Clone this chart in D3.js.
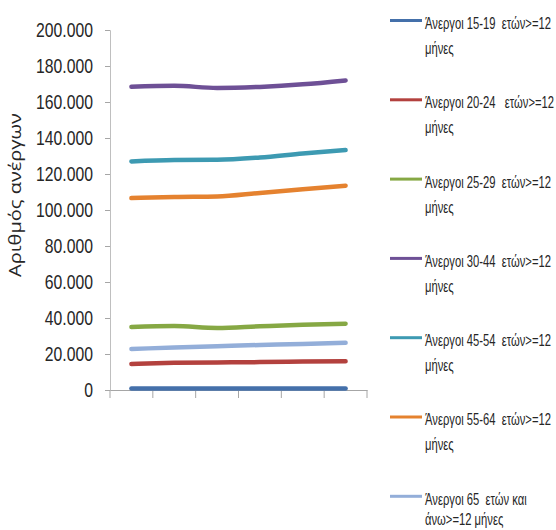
<!DOCTYPE html>
<html><head><meta charset="utf-8">
<script src="https://cdn.jsdelivr.net/npm/d3@7"></script>
<style>body{margin:0;background:#fff}svg{display:block}</style>
</head><body>
<svg id="c" width="556" height="530"></svg>
<script>
const categories = ["1","2","3","4","5","6"];
const yTicks = [0,20000,40000,60000,80000,100000,120000,140000,160000,180000,200000];
const seriesNames = [
  ["Άνεργοι 15-19  ετών>=12","μήνες"],
  ["Άνεργοι 20-24   ετών>=12","μήνες"],
  ["Άνεργοι 25-29  ετών>=12","μήνες"],
  ["Άνεργοι 30-44  ετών>=12","μήνες"],
  ["Άνεργοι 45-54  ετών>=12","μήνες"],
  ["Άνεργοι 55-64  ετών>=12","μήνες"],
  ["Άνεργοι 65  ετών και","άνω>=12 μήνες"]
];
const s15_19 = [900, 900, 900, 900, 900, 900];
const s20_24 = [14500, 15100, 15300, 15500, 15800, 16000];
const s25_29 = [35000, 35500, 34500, 35400, 36200, 36800];
const s30_44 = [168500, 169000, 167800, 168400, 169800, 172000];
const s45_54 = [127000, 127800, 127900, 129200, 131400, 133300];
const s55_64 = [106600, 107200, 107500, 109500, 111500, 113500];
const s65 = [22800, 23600, 24300, 25000, 25600, 26200];
const allSeries = [s15_19, s20_24, s25_29, s30_44, s45_54, s55_64, s65];
const colors = ["#4470AA","#B3413E","#86A844","#6E5096","#3D9AB2","#E5822F","#93AED9"];

const FONT = "'Liberation Sans',Arial,sans-serif";
const svg = d3.select("#c");
const x = d3.scaleBand().domain(categories).range([110, 367]);
const y = d3.scaleLinear().domain([0, 200000]).range([390, 30]);
const fmt = d => d3.format(",")(d).replace(/,/g, ".");

// y axis
const ya = svg.append("g").attr("transform","translate(110,0)")
  .call(d3.axisLeft(y).tickValues(yTicks).tickSize(5).tickPadding(12).tickFormat(fmt));
ya.select(".domain").attr("stroke","#BFBFBF");
ya.selectAll(".tick line").attr("stroke","#A6A6A6");
const yt = ya.selectAll(".tick text").attr("font-family",FONT)
  .attr("font-size",21).attr("fill","#262626");
const refLen = ya.selectAll(".tick text").filter(d => d === 100000).node().getComputedTextLength();
const sY = 57 / refLen;
yt.attr("transform", `scale(${sY},1)`).attr("x", -17 / sY);

// x axis
const xa = svg.append("g").attr("transform","translate(0,390)")
  .call(d3.axisBottom(x).tickSize(0).tickFormat(""));
xa.select(".domain").attr("stroke","#A6A6A6");
xa.selectAll(".tick").remove();
const bounds = categories.map(c => x(c)).concat([x(categories[categories.length-1]) + x.bandwidth()]);
xa.selectAll("line.bt").data(bounds).join("line").attr("class","bt")
  .attr("x1", d => d).attr("x2", d => d).attr("y1", 0).attr("y2", 8).attr("stroke","#A6A6A6");

// y title
const tt = svg.append("text").attr("font-family","'Open Sans',sans-serif")
  .attr("font-size",16).attr("fill","#262626").attr("text-anchor","middle").text("Αριθμός ανέργων");
const tLen = tt.node().getComputedTextLength();
tt.attr("transform",`translate(21,195) rotate(-90) scale(${164/tLen},1)`);

// lines
const line = d3.line().x((d,i) => x(categories[i]) + x.bandwidth()/2).y(d => y(d)).curve(d3.curveMonotoneX);
svg.append("g").selectAll("path").data(allSeries).join("path")
  .attr("d", line).attr("fill","none").attr("stroke",(d,i)=>colors[i])
  .attr("stroke-width",4.5).attr("stroke-linecap","round");

// legend
const lg = svg.append("g");
const legTexts = [];
seriesNames.forEach((nm, i) => {
  const yy = 20.5 + i*79.3;
  lg.append("line").attr("x1",390).attr("x2",422).attr("y1",yy).attr("y2",yy)
    .attr("stroke",colors[i]).attr("stroke-width",3);
  nm.forEach((t, j) => {
    const ty = Math.min(yy + 8.5 + j*25, 525);
    legTexts.push(lg.append("text").attr("y", ty)
      .style("white-space","pre")
      .attr("font-family",FONT).attr("font-size",16.5).attr("fill","#262626").text(t));
  });
});
const lLen = legTexts[0].node().getComputedTextLength();
const sL = 126 / lLen;
legTexts.forEach(t => t.attr("transform",`scale(${sL},1)`).attr("x", 425 / sL));
</script>
</body></html>
